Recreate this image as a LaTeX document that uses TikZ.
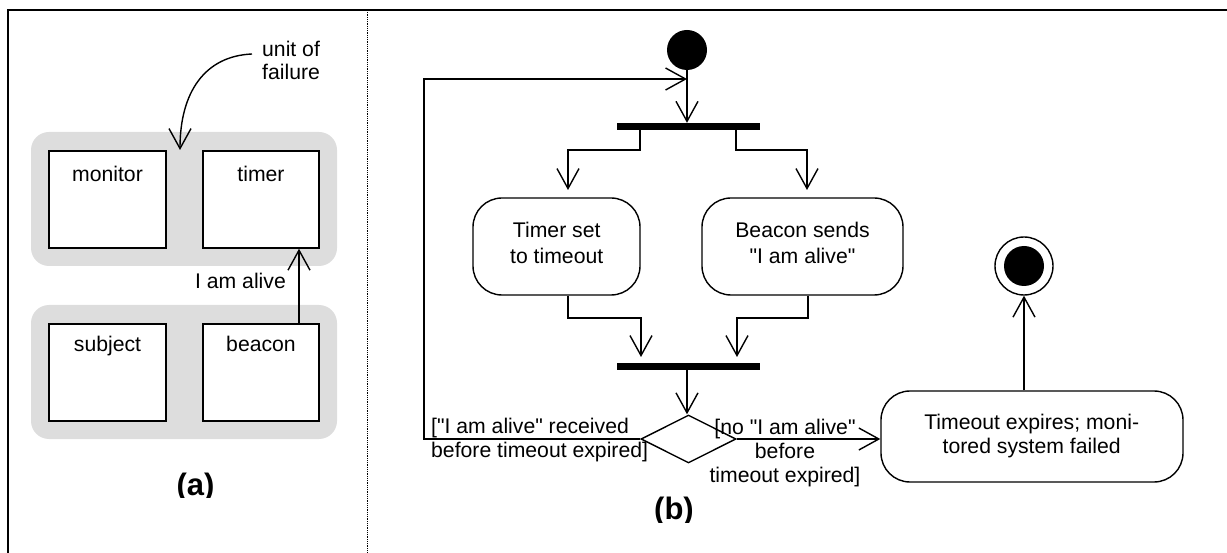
\documentclass[tikz,border=0pt]{standalone}
\usepackage{fontspec}
\setmainfont{Liberation Sans}[Ligatures=TeXOff]
\usetikzlibrary{arrows.meta,shapes.geometric}

\definecolor{unitgray}{RGB}{221,221,221}
\newcommand\diagfont{\fontsize{21.2}{24}\selectfont}
\newcommand\widefont{\fontsize{21.2}{26}\selectfont}
\newcommand\capfont{\fontsize{31}{36}\selectfont\bfseries}

\tikzset{
  flow/.style={line width=1.4pt, -{Straight Barb[length=20pt,width=22pt]}},
  unitbox/.style={fill=unitgray, rounded corners=18pt, inner sep=0pt,
                  minimum width=306pt, minimum height=134pt},
  comp/.style={draw, line width=1.5pt, fill=white, inner sep=0pt, minimum height=97pt},
  activity/.style={draw, line width=1.4pt, rounded corners=29pt, inner sep=0pt},
  txt/.style={inner sep=0pt, font=\diagfont},
  syncbar/.style={fill=black, inner sep=0pt, minimum width=143pt, minimum height=7pt},
}

\begin{document}
\begin{tikzpicture}[x=1pt,y=-1pt]
\clip (0,0) rectangle (1227,553);
\useasboundingbox (0,0) rectangle (1227,553);

% outer frame and divider between the two parts
\draw[line width=2pt] (1240,10) -- (8,10) -- (8,570);
\draw[line width=0.8pt, densely dotted] (367,10) -- (367,553);

% ---------- (a) structure ----------
\node[unitbox] (unittop) at (184,199) {};
\node[unitbox] (unitbot) at (184,372) {};
\node[comp, minimum width=117pt] (lmonitor) at (107.5,199.5) {};
\node[comp, minimum width=116pt] (ltimer)   at (261,199.5) {};
\node[comp, minimum width=117pt] (lsubject) at (107.5,372.5) {};
\node[comp, minimum width=116pt] (lbeacon)  at (261,372.5) {};
\node[txt, anchor=base] (tmonitor) at (107.5,182) {monitor};
\node[txt, anchor=base] (ttimer)   at (261,182) {timer};
\node[txt, anchor=base] (tsubject) at (107.5,352) {subject};
\node[txt, anchor=base] (tbeacon)  at (261,352) {beacon};

\draw[flow] (lbeacon.north -| 299,0) -- (ltimer.south -| 299,0);
\node[txt, anchor=base] (alive) at (240.5,289) {I am alive};

\node[txt, anchor=base west] (unitof) at (262,57) {unit of};
\node[txt, anchor=base west] (failure) at (262,80) {failure};
\coordinate (ufstart) at (252,54);
\coordinate (uftip) at (180,150);
\draw[flow] (ufstart) .. controls (205,56) and (180,92) .. (uftip);

\begin{scope}
  \clip (150,440) rectangle (240,497);
  \node[inner sep=0pt, font=\capfont, anchor=base] (capa) at (195.5,495) {(a)};
\end{scope}

% ---------- (b) activity diagram ----------
\node[circle, fill=black, inner sep=0pt, minimum size=40pt] (rstart) at (687,50) {};
\node[syncbar] (fork) at (688.5,126.5) {};
\node[syncbar] (join) at (688.5,366.5) {};
\coordinate (merge) at (687,79);

\node[activity, minimum width=167pt, minimum height=97pt] (settimer) at (556.5,246.5) {};
\node[txt, font=\widefont, anchor=north, align=center] (tsettimer) at (556.7,221.8) {Timer set\\to timeout};
\node[activity, minimum width=201pt, minimum height=97pt] (sendbeacon) at (802.5,246.5) {};
\node[txt, font=\widefont, anchor=north, align=center] (tsendbeacon) at (802.5,221.8) {Beacon sends\\"I am alive"};

\node[diamond, aspect=2, draw, line width=1.4pt, inner sep=0pt,
      minimum width=95pt, minimum height=48pt] (decide) at (688.5,439) {};

\node[activity, minimum width=302pt, minimum height=91pt] (expire) at (1032,436.5) {};
\node[txt, anchor=north, align=center] (texpire) at (1031.7,413.8) {Timeout expires; moni-\\tored system failed};

\node[circle, draw, line width=1.4pt, fill=white, inner sep=0pt, minimum size=58pt] (rfinal) at (1024,266) {};
\node[circle, fill=black, inner sep=0pt, minimum size=40pt] (rfinaldot) at (rfinal.center) {};

% control flow
\draw[flow] (rstart.south) -- (fork.north -| rstart.south);
\draw[flow] (fork.south -| 640,0) |- (568,150) -- (568,190);
\draw[flow] (fork.south -| 736,0) |- (807,150) -- (807,190);
\draw[flow] (settimer.south -| 568,0) |- (641,318) -- (641,357);
\draw[flow] (sendbeacon.south -| 808,0) |- (737,318) -- (737,357);
\draw[flow] (join.south -| 687,0) -- (decide.north -| 687,0);
\draw[flow] (decide.west) -- (424,439) |- (merge);
\draw[flow] (decide.east) -- (decide.east -| expire.west);
\draw[flow] (expire.north -| rfinal.south) -- (rfinal.south);

% guards
\node[txt, anchor=north west, align=left] (gleft) at (431,417.6)
  {["I am alive" received\\before timeout expired]};
\node[txt, anchor=north, align=center] (gright) at (785,418.6)
  {[no "I am alive"\\before\\timeout expired]};

\begin{scope}
  \clip (620,470) rectangle (730,522);
  \node[inner sep=0pt, font=\capfont, anchor=base] (capb) at (674,519) {(b)};
\end{scope}
\end{tikzpicture}
\end{document}
